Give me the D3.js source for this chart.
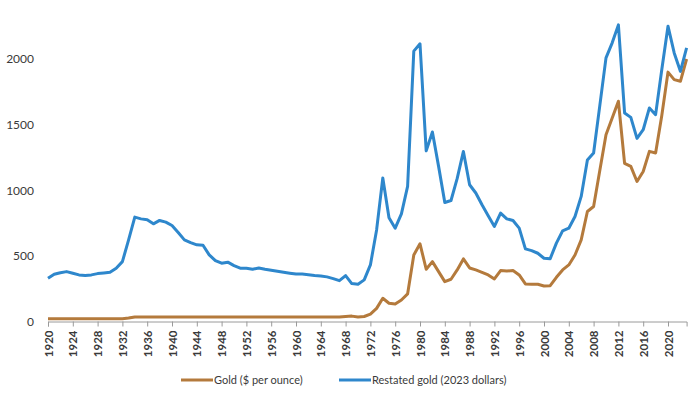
<!DOCTYPE html>
<html>
<head>
<meta charset="utf-8">
<script src="https://cdn.jsdelivr.net/npm/d3@7"></script>
<style>
  body { margin: 0; background: #ffffff; }
  #chart { width: 700px; height: 394px; }
  .axis text { font-family: Lato, "Open Sans", sans-serif; fill: #3a3a3a; }
</style>
</head>
<body>
<div id="chart"></div>
<script>
////////////////////////////////////////////////////////////////////////
// Gold price, nominal and restated in 2023 dollars, 1920 - 2023
////////////////////////////////////////////////////////////////////////

var years = d3.range(1920, 2024);

// nominal price, $ per ounce
var goldNominal = [
  20.67, 20.67, 20.67, 20.67, 20.67, 20.67, 20.67, 20.67, 20.67, 20.67,   // 1920s
  20.67, 20.67, 20.67, 26, 35, 35, 35, 35, 35, 35,                        // 1930s
  35, 35, 35, 35, 35, 35, 35, 35, 35, 35,                                 // 1940s
  35, 35, 35, 35, 35, 35, 35, 35, 35, 35,                                 // 1950s
  35, 35, 35, 35, 35, 35, 35, 35, 39, 41,                                 // 1960s
  34, 38, 57, 100, 177, 139, 134, 164, 210, 507,                          // 1970s
  592, 398, 456, 380, 304, 322, 393, 477, 408, 393,                       // 1980s
  375, 355, 324, 388, 385, 388, 355, 286, 284, 284,                       // 1990s
  271, 273, 337, 393, 431, 507, 622, 838, 876, 1150,                      // 2000s
  1423, 1550, 1678, 1205, 1182, 1067, 1143, 1296, 1284, 1570,             // 2010s
  1900, 1843, 1830, 2000                                                  // 2020s
];

// restated in 2023 dollars
var goldRestated = [
  330, 360, 372, 380, 368, 355, 350, 355, 365, 370,
  375, 406, 456, 622, 795, 782, 775, 744, 770, 757,
  731, 678, 622, 601, 584, 581, 508, 464, 444, 452,
  426, 406, 405, 398, 408, 398, 390, 383, 375, 368,
  362, 362, 357, 350, 347, 340, 327, 311, 350, 289,
  284, 317, 431, 698, 1093, 790, 711, 820, 1029, 2060,
  2116, 1300, 1444, 1182, 907, 922, 1090, 1296, 1042, 979,
  889, 806, 724, 826, 782, 770, 711, 553, 540, 520,
  482, 479, 597, 691, 711, 800, 953, 1230, 1284, 1645,
  2009, 2123, 2260, 1589, 1555, 1395, 1461, 1627, 1576, 1920,
  2250, 2046, 1906, 2085
];

var yTicks = [0, 500, 1000, 1500, 2000];
var xTicks = d3.range(1920, 2021, 4);

var seriesNames = ["Gold ($ per ounce)", "Restated gold (2023 dollars)"];
var seriesColors = ["#b47a3c", "#2e87cc"];


function init()
  {
  var svg = d3.select("#chart")
    .append("svg")
    .attr("width", 700)
    .attr("height", 394);

  var x = d3.scaleLinear().domain([1920, 2023]).range([48, 686.6]);
  var y = d3.scaleLinear().domain([0, 2000]).range([321.5, 59]);

  drawAxes(svg, x, y);

  var line = d3.line()
    .x(function(d) { return x(d.year); })
    .y(function(d) { return y(d.value); });

  var allSeries = [goldNominal, goldRestated];
  allSeries.forEach(function(values, i)
    {
    var pts = years.map(function(yr, j) { return {year: yr, value: values[j]}; });
    svg.append("path")
      .datum(pts)
      .attr("fill", "none")
      .attr("stroke", seriesColors[i])
      .attr("stroke-width", 3)
      .attr("stroke-linejoin", "round")
      .attr("d", line);
    });

  drawLegend(svg);
  }


function drawAxes(svg, x, y)
  {
  // y axis: labels only, no commas
  var yAxis = svg.append("g")
    .attr("class", "axis")
    .attr("transform", "translate(48,0)")
    .call(d3.axisLeft(y).tickValues(yTicks).tickFormat(d3.format("d")).tickSize(0).tickPadding(14));
  yAxis.select(".domain").remove();
  yAxis.selectAll("text").style("font-size", "12px");

  // x axis with rotated year labels
  var xAxis = svg.append("g")
    .attr("class", "axis")
    .attr("transform", "translate(0," + y(0) + ")")
    .call(d3.axisBottom(x).tickValues(xTicks).tickFormat(d3.format("d")).tickSizeOuter(0).tickSize(5));
  xAxis.select(".domain").attr("stroke", "#9a9a9a");
  xAxis.selectAll(".tick line").attr("stroke", "#9a9a9a");
  xAxis.selectAll("text")
    .style("font-size", "11.5px")
    .style("font-weight", "bold")
    .attr("transform", "rotate(-90)")
    .attr("text-anchor", "end")
    .attr("x", -9)
    .attr("y", 0)
    .attr("dy", "0.35em");
  }


function drawLegend(svg)
  {
  var legendX = [181, 339];
  var legend = svg.append("g").attr("class", "axis");

  seriesNames.forEach(function(name, i)
    {
    legend.append("line")
      .attr("x1", legendX[i])
      .attr("x2", legendX[i] + 32)
      .attr("y1", 380)
      .attr("y2", 380)
      .attr("stroke", seriesColors[i])
      .attr("stroke-width", 3);

    legend.append("text")
      .attr("x", legendX[i] + 33)
      .attr("y", 380)
      .attr("dy", "0.35em")
      .style("font-size", "11px")
      .style("font-family", "Lato, sans-serif")
      .attr("fill", "#333")
      .text(name);
    });
  }

init();
</script>
</body>
</html>
